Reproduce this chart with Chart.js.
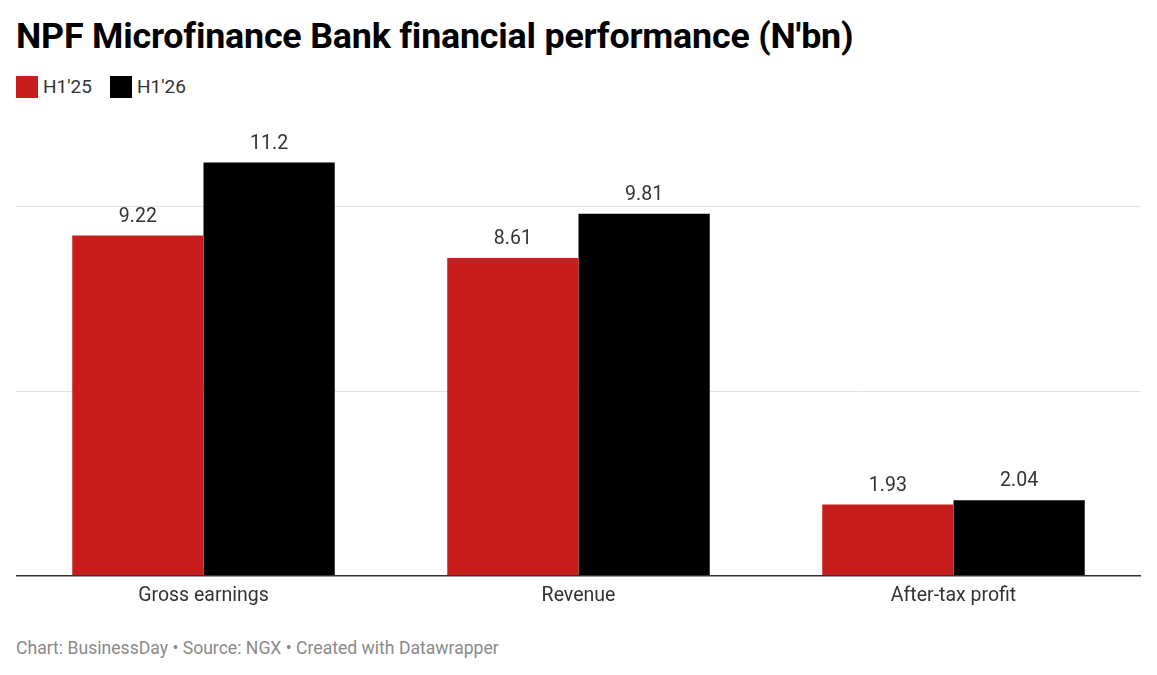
<!DOCTYPE html>
<html>
<head>
<meta charset="utf-8">
<script src="https://cdn.jsdelivr.net/npm/chart.js@4"></script>
<style>
  body { margin: 0; background: #fff; font-family: Roboto, sans-serif; }
  #wrap { position: relative; width: 1157px; height: 675px; }
  h1 { position: absolute; left: 16px; top: 15px; margin: 0; font-size: 35.8px; font-weight: 700; color: #000; letter-spacing: -0.2px; line-height: 1.2; }
  .legend { position: absolute; left: 16px; top: 76px; display: flex; font-size: 19px; color: #333; line-height: 22px; }
  .legend span.item { display: flex; align-items: center; margin-right: 18px; }
  .legend i { display: inline-block; width: 22px; height: 22px; margin-right: 5px; }
  #box { position: absolute; left: 16px; top: 133px; width: 1125px; height: 484px; }
  .foot { position: absolute; left: 16px; top: 638px; font-size: 17.6px; color: #8a8a8a; }
</style>
</head>
<body>
<div id="wrap">
  <h1>NPF Microfinance Bank financial performance (N'bn)</h1>
  <div class="legend">
    <span class="item"><i style="background:#c71e1d"></i>H1'25</span>
    <span class="item"><i style="background:#000"></i>H1'26</span>
  </div>
  <div id="box"><canvas id="barChart"></canvas></div>
  <div class="foot">Chart: BusinessDay • Source: NGX • Created with Datawrapper</div>
</div>
<script>
const categories = ["Gross earnings", "Revenue", "After-tax profit"];
const h125 = [9.22, 8.61, 1.93];
const h126 = [11.2, 9.81, 2.04];
const gridTicks = [0, 5, 10];

const valueLabels = {
	id: 'valueLabels',
	afterDatasetsDraw(chart) {
		const ctx = chart.ctx;
		ctx.save();
		ctx.font = '19.5px Roboto';
		ctx.fillStyle = '#333';
		ctx.textAlign = 'center';
		ctx.textBaseline = 'bottom';
		chart.data.datasets.forEach((ds, i) => {
			chart.getDatasetMeta(i).data.forEach((bar, j) => {
				ctx.fillText(String(ds.data[j]), bar.x, bar.y - 9);
			});
		});
		ctx.restore();
	}
};

new Chart(document.querySelector("#barChart"), {
	type: "bar",
	data: {
		labels: categories,
		datasets: [
			{ label: "H1'25", data: h125, backgroundColor: "#c71e1d" },
			{ label: "H1'26", data: h126, backgroundColor: "#000000" }
		]
	},
	options: {
		responsive: true,
		maintainAspectRatio: false,
		animation: false,
		categoryPercentage: 0.7,
		barPercentage: 1.0,
		layout: { padding: 0 },
		plugins: { legend: { display: false }, tooltip: { enabled: false } },
		scales: {
			x: {
				grid: { display: false, drawTicks: false },
				border: { color: '#333', width: 1.5 },
				ticks: { color: '#333', font: { family: 'Roboto', size: 19.5 }, padding: 9 }
			},
			y: {
				min: 0,
				max: 12,
				display: true,
				afterBuildTicks(axis) { axis.ticks = gridTicks.map(v => ({ value: v })); },
				grid: { color: '#e3e3e3', lineWidth: 1, drawTicks: false },
				border: { display: false },
				ticks: { display: false }
			}
		}
	},
	plugins: [valueLabels]
});
</script>
</body>
</html>
